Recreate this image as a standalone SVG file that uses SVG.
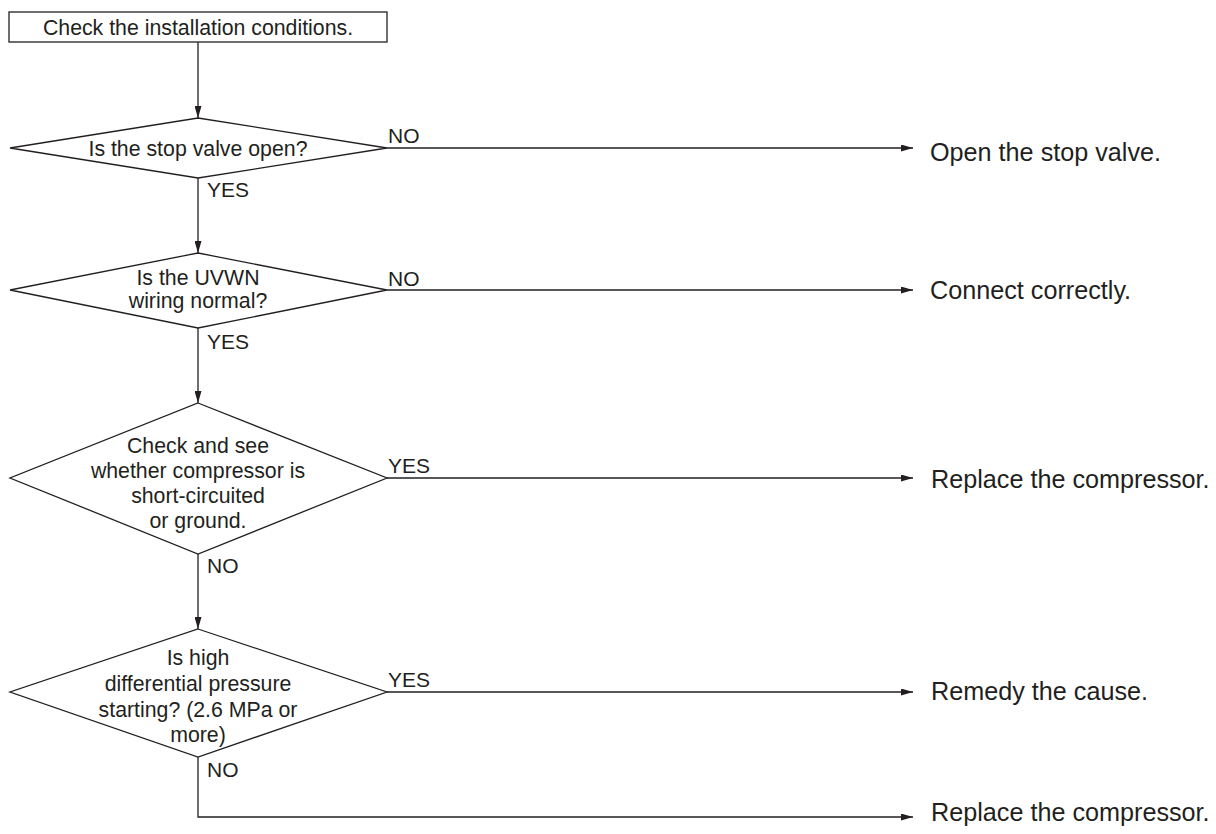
<svg xmlns="http://www.w3.org/2000/svg" width="1216" height="834" viewBox="0 0 1216 834">
<style>
.shape{fill:#fff;stroke:#231f20;stroke-width:1.3}
.line{fill:none;stroke:#231f20;stroke-width:1.3}
text{font-family:"Liberation Sans",Arial,sans-serif;fill:#231f20}
.t{font-size:21.3px;text-anchor:middle}
.lbl{font-size:21px}
.res{font-size:25.2px}
</style>
<defs>
<marker id="ah" viewBox="0 0 12 7" refX="12" refY="3.5" markerWidth="12" markerHeight="7" markerUnits="userSpaceOnUse" orient="auto">
<path d="M0,0 L12,3.5 L0,7 Z" fill="#231f20"/>
</marker>
</defs>
<rect width="1216" height="834" fill="#fff"/>
<g id="connectors">
<line class="line" x1="198" y1="42" x2="198" y2="118" marker-end="url(#ah)"/>
<line class="line" x1="198" y1="178" x2="198" y2="253" marker-end="url(#ah)"/>
<line class="line" x1="198" y1="328" x2="198" y2="403" marker-end="url(#ah)"/>
<line class="line" x1="198" y1="554" x2="198" y2="629" marker-end="url(#ah)"/>
<polyline class="line" points="198,757 198,817 913,817" marker-end="url(#ah)"/>
<line class="line" x1="387" y1="148" x2="913" y2="148" marker-end="url(#ah)"/>
<line class="line" x1="387" y1="290" x2="913" y2="290" marker-end="url(#ah)"/>
<line class="line" x1="387" y1="478" x2="913" y2="478" marker-end="url(#ah)"/>
<line class="line" x1="387" y1="692" x2="913" y2="692" marker-end="url(#ah)"/>
<text class="lbl" x="388" y="143">NO</text>
<text class="lbl" x="207" y="197">YES</text>
<text class="lbl" x="388" y="286">NO</text>
<text class="lbl" x="207" y="349">YES</text>
<text class="lbl" x="388" y="473">YES</text>
<text class="lbl" x="207" y="573">NO</text>
<text class="lbl" x="388" y="687">YES</text>
<text class="lbl" x="207" y="777">NO</text>
</g>
<g id="start">
<rect class="shape" x="9" y="12" width="378" height="30"/>
<text class="t" x="198" y="35">Check the installation conditions.</text>
</g>
<g id="q1">
<polygon class="shape" points="198,118 387,148 198,178 10,148"/>
<text class="t" x="198" y="156">Is the stop valve open?</text>
</g>
<g id="q2">
<polygon class="shape" points="198,253 387,290 198,328 10,290"/>
<text class="t" x="198" y="285">Is the UVWN</text>
<text class="t" x="198" y="308">wiring normal?</text>
</g>
<g id="q3">
<polygon class="shape" points="198,403 387,478 198,554 10,478"/>
<text class="t" x="198" y="453">Check and see</text>
<text class="t" x="198" y="478">whether compressor is</text>
<text class="t" x="198" y="503">short-circuited</text>
<text class="t" x="198" y="528">or ground.</text>
</g>
<g id="q4">
<polygon class="shape" points="198,629 387,692 198,757 10,692"/>
<text class="t" x="198" y="665">Is high</text>
<text class="t" x="198" y="691">differential pressure</text>
<text class="t" x="198" y="717">starting? (2.6 MPa or</text>
<text class="t" x="198" y="742">more)</text>
</g>
<g id="r1"><text class="res" x="930" y="161">Open the stop valve.</text></g>
<g id="r2"><text class="res" x="930" y="299">Connect correctly.</text></g>
<g id="r3"><text class="res" x="931" y="488">Replace the compressor.</text></g>
<g id="r4"><text class="res" x="931" y="700">Remedy the cause.</text></g>
<g id="r5"><text class="res" x="931" y="821">Replace the compressor.</text></g>
</svg>
